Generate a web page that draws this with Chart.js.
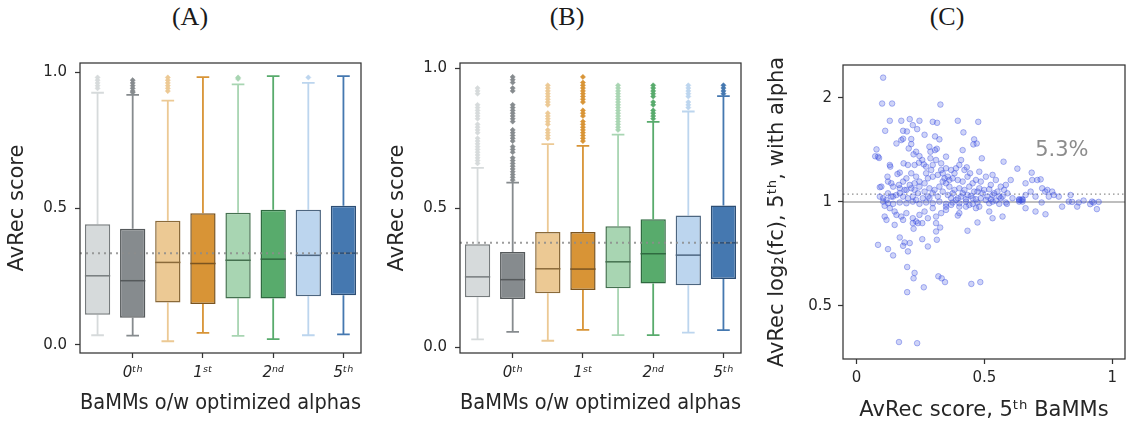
<!DOCTYPE html>
<html><head><meta charset="utf-8">
<script src="https://cdn.jsdelivr.net/npm/chart.js@4.4.1/dist/chart.umd.min.js"></script>
<style>
html,body{margin:0;padding:0;background:#fff;overflow:hidden;width:1126px;height:423px;position:relative;}
canvas{position:absolute;top:0;}
.ttl{position:absolute;top:3px;font-family:"Liberation Serif","DejaVu Serif",serif;font-size:26px;line-height:28px;color:#1a1a1a;transform:translateX(-50%);white-space:nowrap;}
</style></head><body>
<div class="ttl" style="left:190px">(A)</div>
<div class="ttl" style="left:567px">(B)</div>
<div class="ttl" style="left:947px">(C)</div>
<canvas id="cA" width="380" height="423" style="left:0px"></canvas>
<canvas id="cB" width="380" height="423" style="left:380px"></canvas>
<canvas id="cC" width="370" height="423" style="left:760px"></canvas>
<script>
// ---------- data ----------
const categories = ['0th w/o alpha','0th optimized','1st w/o alpha','1st optimized','2nd w/o alpha','2nd optimized','5th w/o alpha','5th optimized'];
const tickLabels = ['', '0ᵗʰ', '', '1ˢᵗ', '', '2ⁿᵈ', '', '5ᵗʰ'];
const faceColors = ['#d6dadb','#868b8e','#ecc994','#d89436','#a8d5b2','#58ab6c','#bcd5ee','#4578b0'];
const edgeColors = ['#767b7d','#55595b','#8a6a3a','#7a5420','#44704f','#2f6a40','#4d6680','#2d4e74'];
const yBoxTicks = [0, 0.5, 1.0];

// Panel A
const aQ1 = [0.110,0.099,0.155,0.150,0.170,0.170,0.178,0.182];
const aMedian = [0.253,0.235,0.302,0.298,0.310,0.314,0.328,0.336];
const aQ3 = [0.442,0.425,0.455,0.482,0.484,0.495,0.495,0.510];
const aWhiskerLow = [0.035,0.034,0.013,0.044,0.033,0.021,0.035,0.038];
const aWhiskerHigh = [0.924,0.916,0.895,0.981,0.955,0.985,0.960,0.985];
const aOutliers = [
  [0.94,0.95,0.96,0.97,0.98],
  [0.925,0.93,0.94,0.95,0.96,0.97],
  [0.93,0.94,0.95,0.96,0.97,0.98],
  [],
  [0.975,0.98],
  [],
  [0.98],
  []
];
const aReference = 0.336;

// Panel B
const bQ1 = [0.180,0.174,0.194,0.206,0.212,0.229,0.223,0.245];
const bMedian = [0.253,0.243,0.282,0.281,0.307,0.336,0.331,0.375];
const bQ3 = [0.370,0.342,0.414,0.414,0.435,0.460,0.473,0.509];
const bWhiskerLow = [0.029,0.056,0.024,0.063,0.044,0.044,0.053,0.062];
const bWhiskerHigh = [0.644,0.591,0.729,0.723,0.763,0.809,0.846,0.901];
const bOutliers = [
  [0.66,0.67,0.68,0.69,0.70,0.71,0.72,0.73,0.74,0.75,0.77,0.78,0.79,0.80,0.82,0.83,0.84,0.85,0.86,0.87,0.91,0.92,0.93],
  [0.60,0.61,0.62,0.63,0.64,0.65,0.66,0.67,0.68,0.70,0.71,0.72,0.74,0.75,0.76,0.77,0.78,0.81,0.82,0.83,0.84,0.85,0.86,0.87,0.92,0.93,0.95,0.96,0.97],
  [0.75,0.76,0.77,0.78,0.80,0.81,0.82,0.83,0.84,0.87,0.88,0.89,0.90,0.91,0.92,0.93,0.94],
  [0.74,0.75,0.76,0.77,0.78,0.79,0.80,0.81,0.83,0.84,0.85,0.88,0.89,0.90,0.91,0.92,0.93,0.94,0.95,0.97],
  [0.78,0.79,0.80,0.81,0.82,0.83,0.84,0.85,0.86,0.87,0.88,0.89,0.90,0.91,0.92,0.93,0.94],
  [0.82,0.83,0.84,0.85,0.87,0.88,0.90,0.91,0.92,0.93,0.94],
  [0.86,0.87,0.88,0.90,0.91,0.92,0.93,0.94],
  [0.91,0.92,0.93,0.94]
];
const bReference = 0.375;

// Panel C
const scatterScore = [0.104,0.100,0.139,0.328,0.130,0.175,0.208,0.246,0.298,0.315,0.396,0.476,0.112,0.182,0.197,0.237,0.220,0.266,0.307,0.418,0.457,0.460,0.470,0.415,0.324,0.078,0.084,0.073,0.088,0.156,0.175,0.182,0.204,0.214,0.214,0.233,0.246,0.223,0.285,0.289,0.307,0.314,0.350,0.409,0.490,0.575,0.130,0.132,0.121,0.160,0.169,0.184,0.201,0.227,0.244,0.257,0.263,0.272,0.289,0.298,0.311,0.331,0.350,0.370,0.389,0.402,0.431,0.444,0.629,0.685,0.091,0.097,0.123,0.136,0.143,0.166,0.182,0.195,0.214,0.227,0.246,0.266,0.279,0.298,0.318,0.337,0.357,0.376,0.396,0.415,0.434,0.454,0.467,0.486,0.506,0.525,0.545,0.564,0.584,0.603,0.661,0.707,0.726,0.746,0.765,0.091,0.104,0.123,0.143,0.156,0.169,0.182,0.201,0.220,0.240,0.259,0.279,0.298,0.318,0.337,0.357,0.376,0.396,0.415,0.434,0.454,0.473,0.493,0.512,0.532,0.551,0.571,0.590,0.610,0.636,0.649,0.661,0.681,0.700,0.752,0.772,0.791,0.837,0.104,0.123,0.143,0.169,0.195,0.220,0.246,0.272,0.298,0.324,0.350,0.376,0.402,0.428,0.454,0.473,0.519,0.532,0.558,0.584,0.636,0.649,0.724,0.830,0.843,0.869,0.888,0.921,0.927,0.947,0.110,0.130,0.149,0.110,0.117,0.156,0.175,0.182,0.195,0.220,0.233,0.246,0.257,0.266,0.279,0.298,0.311,0.331,0.350,0.370,0.402,0.441,0.480,0.519,0.532,0.571,0.661,0.700,0.739,0.804,0.863,0.914,0.940,0.149,0.220,0.240,0.311,0.396,0.402,0.473,0.084,0.123,0.143,0.169,0.182,0.188,0.208,0.201,0.223,0.257,0.279,0.311,0.314,0.327,0.320,0.333,0.346,0.198,0.223,0.227,0.198,0.263,0.434,0.449,0.484,0.166,0.237,0.588,0.687,0.720,0.738,0.350,0.363,0.383,0.402,0.422,0.441,0.460,0.480,0.499,0.519,0.538,0.558,0.577,0.337,0.324,0.305,0.285,0.266,0.246,0.227,0.208,0.188,0.169,0.370,0.389,0.409,0.428,0.447,0.467,0.486,0.506,0.525,0.545,0.564,0.642,0.649,0.636,0.272,0.292,0.331,0.344,0.363,0.383,0.233,0.214,0.195,0.422,0.480,0.532,0.285,0.233,0.117,0.136,0.428,0.467,0.350];
const scatterFc = [2.289,1.926,1.926,1.913,1.717,1.717,1.736,1.717,1.705,1.694,1.717,1.705,1.606,1.606,1.599,1.624,1.668,1.564,1.547,1.589,1.467,1.517,1.476,1.412,1.517,1.419,1.352,1.355,1.340,1.476,1.510,1.523,1.428,1.520,1.470,1.397,1.357,1.373,1.444,1.397,1.412,1.425,1.352,1.322,1.337,1.307,1.279,1.265,1.183,1.204,1.215,1.293,1.279,1.279,1.299,1.322,1.284,1.265,1.337,1.279,1.322,1.293,1.251,1.237,1.251,1.279,1.259,1.210,1.248,1.215,1.103,1.107,1.145,1.132,1.107,1.120,1.145,1.083,1.095,1.083,1.145,1.132,1.170,1.183,1.197,1.210,1.183,1.170,1.157,1.145,1.183,1.132,1.157,1.145,1.183,1.120,1.157,1.107,1.120,1.157,1.132,1.157,1.095,1.083,1.071,1.036,1.025,1.059,1.036,1.047,1.059,1.036,1.025,1.036,1.059,1.025,1.036,1.059,1.036,1.071,1.047,1.059,1.025,1.059,1.047,1.025,1.071,1.059,1.036,1.047,1.071,1.036,1.059,1.025,1.018,1.013,1.047,1.071,1.036,1.036,1.047,1.036,1.047,1.002,0.991,0.987,0.996,0.991,1.002,0.987,0.996,0.991,1.002,0.987,0.996,0.991,1.002,0.987,0.996,0.991,1.002,0.987,0.996,1.013,1.002,0.996,1.002,1.000,0.996,1.009,1.002,0.996,1.000,0.974,0.959,0.938,0.907,0.887,0.917,0.907,0.887,0.928,0.897,0.878,0.917,0.868,0.938,0.897,0.959,0.907,0.928,0.969,0.980,0.969,0.980,0.969,0.938,0.897,0.907,0.959,0.938,0.921,0.969,0.969,0.985,0.953,0.858,0.868,0.868,0.868,0.913,0.928,0.872,0.751,0.730,0.700,0.789,0.746,0.763,0.760,0.719,0.836,0.780,0.743,0.821,0.777,0.843,0.609,0.601,0.586,0.648,0.601,0.623,0.548,0.566,0.825,0.579,0.586,0.393,0.390,0.987,1.157,1.162,1.071,1.132,1.107,1.083,1.095,1.083,1.107,1.071,1.095,1.083,1.088,1.059,1.036,1.083,1.145,1.107,1.083,1.095,1.071,1.107,1.132,1.120,1.083,1.095,1.025,1.013,1.036,1.018,1.041,1.018,1.025,1.013,1.018,1.009,1.025,1.013,1.018,1.002,1.210,1.237,1.237,1.170,1.157,1.210,1.183,1.210,1.170,1.237,1.223,1.197,1.025,1.013,1.013,1.036,0.969,0.959,0.948];
const cXTicks = [0, 0.5, 1];
const cXTickLabels = ['0', '0.5', '1'];
const cYTicks = [0.5, 1, 2];
const cYTickLabels = ['0.5', '1', '2'];
const cBaseline = 1.0;
const cThreshold = 1.053;
const cAnnotation = {text: '5.3%', x: 0.803, y: 1.41};

// ---------- common ----------
Chart.defaults.font.family = '"DejaVu Sans", sans-serif';
Chart.defaults.color = '#262626';
Chart.defaults.animation = false;

const spinePlugin = {
  id: 'spines',
  afterDraw(chart) {
    const {ctx, chartArea: a} = chart;
    ctx.save();
    ctx.strokeStyle = '#333333';
    ctx.lineWidth = 1.25;
    ctx.strokeRect(a.left, a.top, a.right - a.left, a.bottom - a.top);
    ctx.restore();
  }
};

function makeBoxPlugin(q1, med, q3, wl, wh, ref) {
  return {
    id: 'boxParts',
    beforeDatasetsDraw(chart) {
      const {ctx} = chart, y = chart.scales.y;
      const meta = chart.getDatasetMeta(0);
      meta.data.forEach((bar, i) => {
        const cx = bar.x, w = bar.width;
        ctx.save();
        ctx.strokeStyle = faceColors[i];
        ctx.lineWidth = 1.8;
        const yl = y.getPixelForValue(wl[i]), yh = y.getPixelForValue(wh[i]);
        const y1 = y.getPixelForValue(q1[i]), y3 = y.getPixelForValue(q3[i]);
        ctx.beginPath();
        ctx.moveTo(cx, y3); ctx.lineTo(cx, yh);
        ctx.moveTo(cx, y1); ctx.lineTo(cx, yl);
        ctx.moveTo(cx - w / 4, yh); ctx.lineTo(cx + w / 4, yh);
        ctx.moveTo(cx - w / 4, yl); ctx.lineTo(cx + w / 4, yl);
        ctx.stroke();
        ctx.restore();
      });
    },
    afterDatasetsDraw(chart) {
      const {ctx, chartArea: a} = chart, y = chart.scales.y;
      const meta = chart.getDatasetMeta(0);
      meta.data.forEach((bar, i) => {
        const cx = bar.x, w = bar.width;
        const ym = y.getPixelForValue(med[i]);
        ctx.save();
        ctx.strokeStyle = edgeColors[i];
        ctx.lineWidth = 1.5;
        ctx.beginPath();
        ctx.moveTo(cx - w / 2, ym); ctx.lineTo(cx + w / 2, ym);
        ctx.stroke();
        ctx.restore();
      });
      const yr = y.getPixelForValue(ref);
      ctx.save();
      ctx.strokeStyle = 'rgba(140,140,140,0.85)';
      ctx.lineWidth = 2;
      ctx.setLineDash([2, 4]);
      ctx.beginPath();
      ctx.moveTo(a.left, yr); ctx.lineTo(a.right, yr);
      ctx.stroke();
      ctx.restore();
    }
  };
}

function makeBoxChart(id, q1, med, q3, wl, wh, outliers, ref, yMin, yMax) {
  const outData = [], outColors = [];
  outliers.forEach((list, i) => list.forEach(v => { outData.push({x: categories[i], y: v}); outColors.push(faceColors[i]); }));
  return new Chart(document.getElementById(id), {
    type: 'bar',
    data: {
      labels: categories,
      datasets: [
        {
          label: 'IQR',
          data: q1.map((v, i) => [v, q3[i]]),
          backgroundColor: faceColors,
          borderColor: edgeColors,
          borderWidth: 1.5,
          borderSkipped: false,
          barPercentage: 0.72,
          categoryPercentage: 1.0
        },
        {
          type: 'scatter',
          label: 'outliers',
          data: outData,
          pointStyle: 'rectRot',
          pointRadius: 2.6,
          pointBackgroundColor: outColors,
          pointBorderColor: outColors,
          pointBorderWidth: 0.5
        }
      ]
    },
    options: {
      responsive: false,
      animation: false,
      layout: {padding: {top: 63, right: 19, left: 0, bottom: 0}},
      plugins: {legend: {display: false}, tooltip: {enabled: false}},
      scales: {
        x: {
          type: 'category',
          offset: true,
          afterFit: s => { s.height = 70; },
          border: {display: false},
          grid: {
            offset: false, drawOnChartArea: false, drawTicks: true, tickLength: 5, tickWidth: 1.25,
            tickColor: c => tickLabels[c.index] ? '#333333' : 'rgba(0,0,0,0)'
          },
          ticks: {
            autoSkip: false, maxRotation: 0, padding: 6, color: '#262626',
            font: {size: 15, style: 'italic'},
            callback: (v, i) => tickLabels[i]
          },
          title: {display: true, text: 'BaMMs o/w optimized alphas', font: {size: 21}, color: '#262626', padding: {top: 0, bottom: 7}}
        },
        y: {
          type: 'linear', min: yMin, max: yMax,
          afterFit: s => { s.width = 80; },
          afterBuildTicks: s => { s.ticks = yBoxTicks.map(v => ({value: v})); },
          border: {display: false},
          grid: {drawOnChartArea: false, drawTicks: true, tickLength: 5, tickWidth: 1.25, tickColor: '#333333'},
          ticks: {padding: 8, font: {size: 15}, color: '#262626', callback: v => Number(v).toFixed(1)},
          title: {display: true, text: 'AvRec score', font: {size: 21}, color: '#262626', padding: {top: 5, bottom: 0}}
        }
      }
    },
    plugins: [makeBoxPlugin(q1, med, q3, wl, wh, ref), spinePlugin]
  });
}

makeBoxChart('cA', aQ1, aMedian, aQ3, aWhiskerLow, aWhiskerHigh, aOutliers, aReference, -0.03, 1.033);
makeBoxChart('cB', bQ1, bMedian, bQ3, bWhiskerLow, bWhiskerHigh, bOutliers, bReference, -0.02, 1.02);

// Panel C
const cLinesPlugin = {
  id: 'cLines',
  beforeDatasetsDraw(chart) {
    const {ctx, chartArea: a} = chart, y = chart.scales.y;
    ctx.save();
    const yb = y.getPixelForValue(cBaseline);
    ctx.strokeStyle = '#a8a8a8'; ctx.lineWidth = 1.5;
    ctx.beginPath(); ctx.moveTo(a.left, yb); ctx.lineTo(a.right, yb); ctx.stroke();
    const yt = y.getPixelForValue(cThreshold);
    ctx.strokeStyle = '#8f8f8f'; ctx.lineWidth = 1.3; ctx.setLineDash([1.5, 3]);
    ctx.beginPath(); ctx.moveTo(a.left, yt); ctx.lineTo(a.right, yt); ctx.stroke();
    ctx.restore();
  },
  afterDatasetsDraw(chart) {
    const {ctx} = chart, x = chart.scales.x, y = chart.scales.y;
    ctx.save();
    ctx.fillStyle = '#8c8c8c';
    ctx.font = '21px "DejaVu Sans", sans-serif';
    ctx.textAlign = 'center'; ctx.textBaseline = 'middle';
    ctx.fillText(cAnnotation.text, x.getPixelForValue(cAnnotation.x), y.getPixelForValue(cAnnotation.y));
    ctx.restore();
  }
};

new Chart(document.getElementById('cC'), {
  type: 'scatter',
  data: {
    datasets: [{
      label: 'motifs',
      data: scatterScore.map((v, i) => ({x: v, y: scatterFc[i]})),
      pointRadius: 2.8,
      pointBackgroundColor: 'rgba(60,80,225,0.25)',
      pointBorderColor: 'rgba(60,80,225,0.40)',
      pointBorderWidth: 1
    }]
  },
  options: {
    responsive: false,
    animation: false,
    layout: {padding: {top: 65, right: 3, left: 0, bottom: 0}},
    plugins: {legend: {display: false}, tooltip: {enabled: false}},
    scales: {
      x: {
        type: 'linear', min: -0.053, max: 1.05,
        afterFit: s => { s.height = 64; },
        afterBuildTicks: s => { s.ticks = cXTicks.map(v => ({value: v})); },
        border: {display: false},
        grid: {drawOnChartArea: false, drawTicks: true, tickLength: 5, tickWidth: 1.25, tickColor: '#333333'},
        ticks: {padding: 5, font: {size: 15}, color: '#262626', callback: (v, i) => cXTickLabels[i]},
        title: {display: true, text: 'AvRec score, 5ᵗʰ BaMMs', font: {size: 21}, color: '#262626', padding: {top: 0, bottom: 0}}
      },
      y: {
        type: 'logarithmic', min: 0.351, max: 2.49,
        afterFit: s => { s.width = 83; },
        afterBuildTicks: s => { s.ticks = cYTicks.map(v => ({value: v})); },
        border: {display: false},
        grid: {drawOnChartArea: false, drawTicks: true, tickLength: 5, tickWidth: 1.25, tickColor: '#333333'},
        ticks: {padding: 6, font: {size: 15}, color: '#262626', callback: (v, i) => cYTickLabels[i]},
        title: {display: true, text: 'AvRec log₂(fc), 5ᵗʰ, with alpha', font: {size: 21}, color: '#262626', padding: {top: 5, bottom: 0}}
      }
    }
  },
  plugins: [cLinesPlugin, spinePlugin]
});
</script>
</body></html>
